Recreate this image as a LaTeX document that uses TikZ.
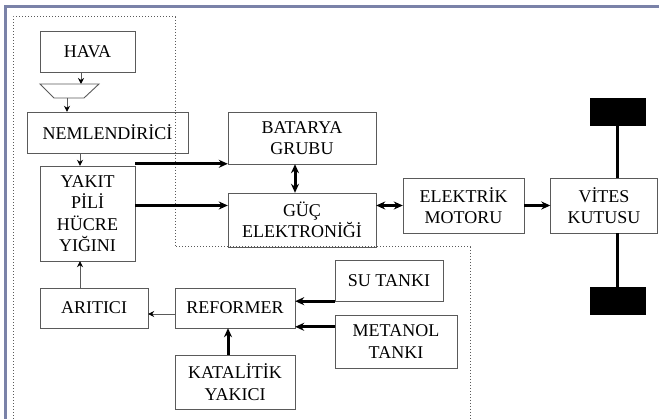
\documentclass[tikz,border=0pt]{standalone}
\usepackage{fontspec}
\setmainfont{Liberation Serif}
\usetikzlibrary{arrows.meta, calc}
\definecolor{framecol}{RGB}{122,130,168}
\definecolor{boxcol}{RGB}{90,90,90}

\begin{document}
\begin{tikzpicture}[
			x=1pt, y=-1pt,
			box/.style={
				draw=boxcol,
				rectangle,
				inner sep=0pt,
				align=center,
				font=\fontsize{18}{21.5}\selectfont
			},
			wheel/.style={
				fill=black,
				draw=black,
				minimum width=55pt,
				minimum height=27pt
			},
			thinarrow/.style={
				draw=boxcol,
				-{Stealth[length=6pt,width=6pt,fill=black,color=black]},
				line width=0.9pt
			},
			thickarrow/.style={
				draw=black,
				-{Stealth[length=9pt,width=8pt]},
				line width=3pt
			},
			bothway/.style={
				thickarrow,
				{Stealth[length=9pt,width=8pt]}-{Stealth[length=9pt,width=8pt]}
			}
			]
			\useasboundingbox (0,0) rectangle (659,419);
			% Frame
			\draw[framecol, line width=3pt] (5.5,419) -- (5.5,6.5) -- (659,6.5);
			
			% Dotted region
			\draw[boxcol, dotted, line width=1pt] (13,419) -- (13,17) -- (175,17) -- (175,247) -- (470,247) -- (470,419);
			
			% Boxes
			\node[box, minimum width=95pt, minimum height=41pt] (hava) at (87.5,51.5) {HAVA};
			\coordinate (funneltop) at (69,84);
			\coordinate (funnelbot) at (69,98);
			\draw[boxcol, line width=0.9pt] ([xshift=-29pt]funneltop) -- ([xshift=30pt]funneltop)
				-- ([xshift=15pt]funnelbot) -- ([xshift=-15pt]funnelbot) -- cycle;
			\node[box, minimum width=161pt, minimum height=41pt] (nem) at (107.5,132.5) {NEMLENDİRİCİ};
			\node[box, minimum width=95pt, minimum height=95pt] (yakit) at (87.5,213.5) {YAKIT\\PİLİ\\HÜCRE\\YIĞINI};
			\node[box, minimum width=148pt, minimum height=52pt] (batarya) at (302,138) {BATARYA\\GRUBU};
			\node[box, minimum width=148pt, minimum height=54pt] (guc) at (302,220) {GÜÇ\\ELEKTRONİĞİ};
			\node[box, minimum width=121pt, minimum height=55pt] (motor) at (463.5,205.5) {ELEKTRİK\\MOTORU};
			\node[box, minimum width=107pt, minimum height=55pt] (vites) at (604,205.5) {VİTES\\KUTUSU};
			\node[wheel] (tekerust) at (617.5,111.5) {};
			\node[wheel] (tekeralt) at (617.5,301) {};
			\node[box, minimum width=108pt, minimum height=40pt] (aritici) at (94,308) {ARITICI};
			\node[box, minimum width=120pt, minimum height=40pt] (reformer) at (235,308) {REFORMER};
			\node[box, minimum width=120pt, minimum height=54pt] (katalitik) at (235,382) {KATALİTİK\\YAKICI};
			\node[box, minimum width=108pt, minimum height=41pt] (su) at (389,280.5) {SU TANKI};
			\node[box, minimum width=122pt, minimum height=53pt] (metanol) at (396,341.5) {METANOL\\TANKI};
			
			% Connections
			\draw[thinarrow] ([xshift=-6.5pt]hava.south) -- ([xshift=-6.5pt]hava.south |- funneltop);
			\draw[thinarrow] ([xshift=-2pt]funnelbot) -- ([xshift=-2pt]funnelbot |- nem.north);
			\draw[thinarrow] ([xshift=-7.5pt]hava.south |- nem.south) -- ([xshift=-7.5pt]yakit.north);
			\draw[thinarrow] ([xshift=-14pt]aritici.north) -- ([xshift=-14pt]aritici.north |- yakit.south);
			\draw[thinarrow] ([yshift=-6pt]reformer.west) -- ([yshift=-6pt]aritici.east);
			\draw[thickarrow] ([yshift=2pt]yakit.north east) -- ([yshift=2pt]yakit.north east -| batarya.west);
			\draw[thickarrow] (yakit.east |- motor.west) -- (guc.west |- motor.west);
			\draw[bothway] ([xshift=-7pt]batarya.south) -- ([xshift=-7pt]guc.north);
			\draw[bothway] (guc.east |- motor.west) -- (motor.west);
			\draw[thickarrow] (motor.east) -- (vites.west);
			\draw[black, line width=3pt] (tekerust.south) -- (tekerust.south |- vites.north);
			\draw[black, line width=3pt] (tekeralt.north |- vites.south) -- (tekeralt.north);
			\draw[thickarrow] ([xshift=-7pt]katalitik.north) -- ([xshift=-7pt]reformer.south);
			\draw[thickarrow] (su.south west) -- (su.south west -| reformer.east);
			\draw[thickarrow] ([yshift=-12pt]metanol.north west) -- ([yshift=-12pt]metanol.north west -| reformer.east);
		\end{tikzpicture}
\end{document}
